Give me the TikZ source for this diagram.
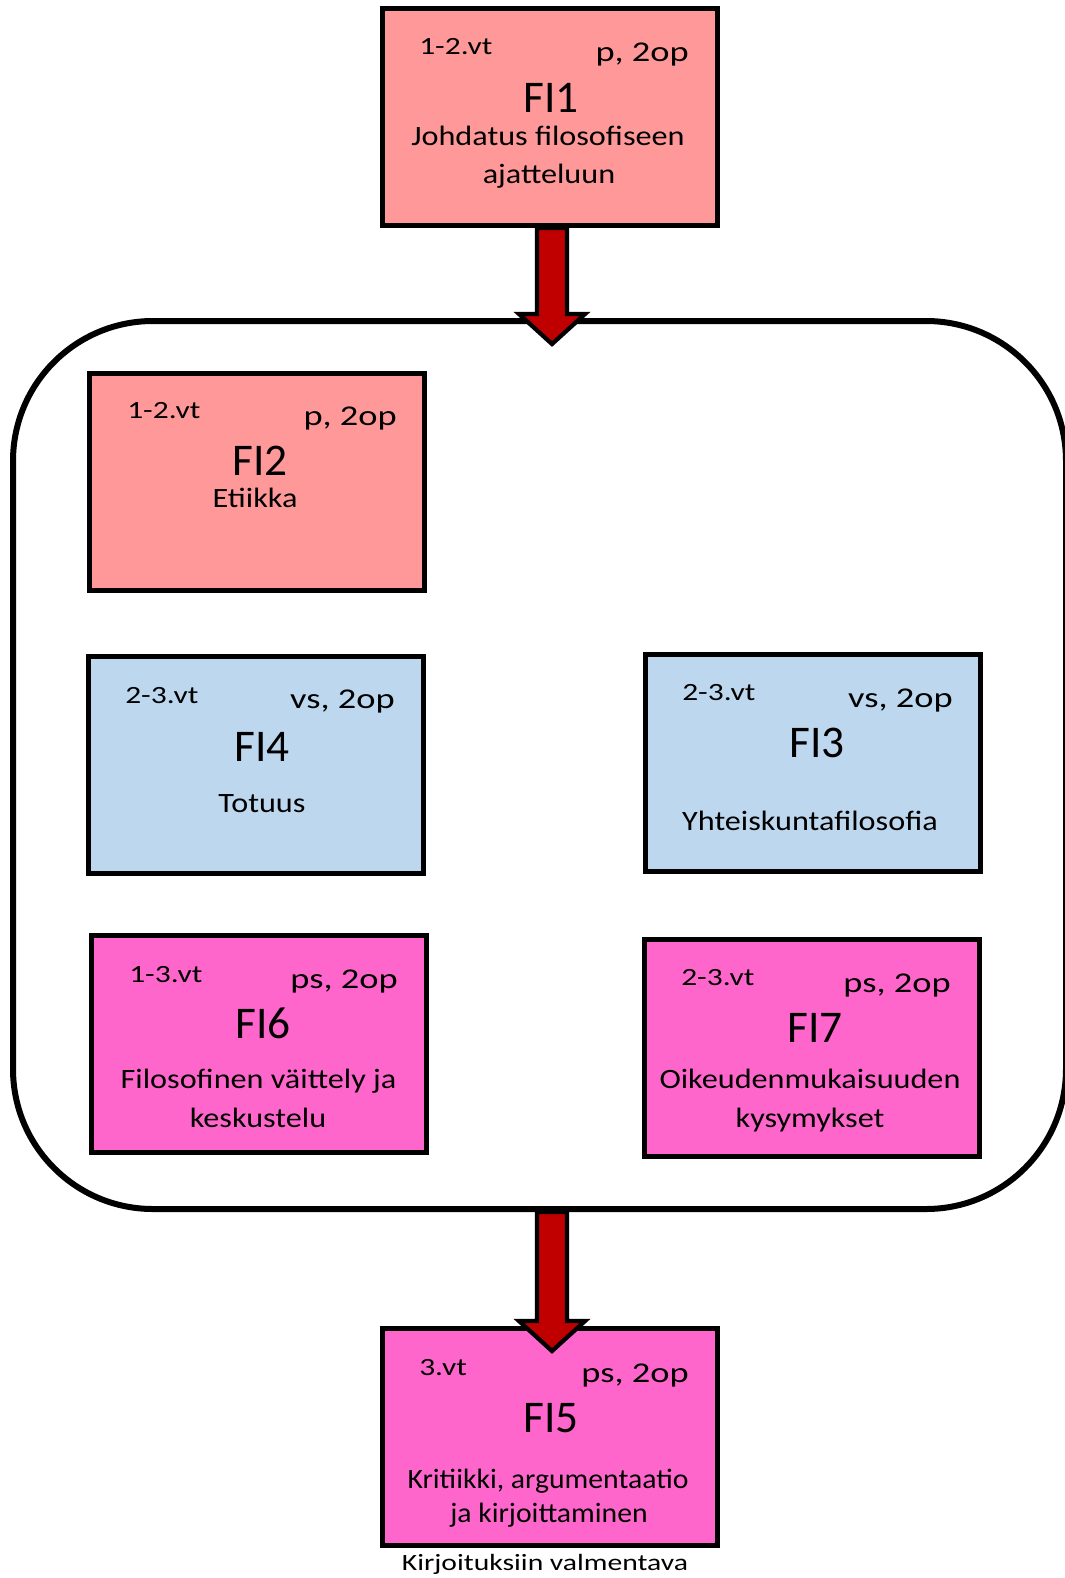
\documentclass[tikz,border=0pt]{standalone}
\usepackage{fontspec}
\setmainfont{Carlito}[FakeStretch=1.15]
\newfontfamily\codefont{Carlito}
\newfontfamily\titlefont{Carlito}[FakeStretch=1.15]
\newfontfamily\narrowtitlefont{Carlito}[FakeStretch=1.06]
\newfontfamily\smallfont{Carlito}[FakeStretch=1.27]
\usetikzlibrary{calc}
\definecolor{salmon}{HTML}{FF9999}
\definecolor{lblue}{HTML}{BDD7EE}
\definecolor{hpink}{HTML}{FF66CC}
\definecolor{darkred}{HTML}{C00000}
\tikzset{
  course/.style={draw=black, line width=3.75pt, minimum width=251.25pt, minimum height=162.75pt, inner sep=0pt},
  groupbox/.style={draw=black, line width=4.5pt, rounded corners=105pt, minimum width=789.75pt, minimum height=666pt, inner sep=0pt},
  blockarrow/.style={draw=black, fill=darkred, line width=3.2pt, line join=miter},
  vtlabel/.style={anchor=base west, inner sep=0pt, font=\smallfont\fontsize{18.6pt}{22pt}\selectfont},
  oplabel/.style={anchor=base east, inner sep=0pt, font=\smallfont\fontsize{21.5pt}{26pt}\selectfont},
  codelabel/.style={anchor=base, inner sep=0pt, font=\codefont\fontsize{34pt}{40pt}\selectfont},
  titlelabel/.style={anchor=base, inner sep=0pt, font=\titlefont\fontsize{21pt}{25pt}\selectfont},
  narrowtitle/.style={anchor=base, inner sep=0pt, font=\narrowtitlefont\fontsize{21pt}{25pt}\selectfont},
  notelabel/.style={anchor=base, inner sep=0pt, font=\smallfont\fontsize{17.5pt}{21pt}\selectfont}
}
\begin{document}
\begin{tikzpicture}[x=0.75pt,y=-0.75pt]
\useasboundingbox (0,0) rectangle (1064,1578);
% group frame
\node[groupbox] (group) at (539.5,765) {};
% course boxes
\node[course, fill=salmon] (fi1) at (549.5,117) {};
\node[course, fill=salmon] (fi2) at (257,481.5) {};
\node[course, fill=lblue] (fi4) at (256,765) {};
\node[course, fill=lblue] (fi3) at (813,762.5) {};
\node[course, fill=hpink] (fi6) at (258.5,1044) {};
\node[course, fill=hpink] (fi7) at (812,1047.5) {};
\node[course, fill=hpink] (fi5) at (549.5,1437) {};
% arrows
\coordinate (a1) at (552,344);
\coordinate (a2) at (552,1351);
\draw[blockarrow] ($(fi1.south -| a1)+(-15,0)$) -- ($(a1)+(-15,-30)$) -- ($(a1)+(-33,-30)$) -- (a1)
  -- ($(a1)+(33,-30)$) -- ($(a1)+(15,-30)$) -- ($(fi1.south -| a1)+(15,0)$) -- cycle;
\draw[blockarrow] ($(group.south -| a2)+(-15,0)$) -- ($(a2)+(-15,-30)$) -- ($(a2)+(-33,-30)$) -- (a2)
  -- ($(a2)+(33,-30)$) -- ($(a2)+(15,-30)$) -- ($(group.south -| a2)+(15,0)$) -- cycle;
% FI1
\node[vtlabel] (fi1vt) at (419,54) {1-2.vt};
\node[oplabel] (fi1op) at (689,61) {p, 2op};
\node[codelabel] (fi1code) at (551,112) {FI1};
\node[titlelabel] (fi1t1) at (548,145) {Johdatus filosofiseen};
\node[titlelabel] (fi1t2) at (549,183) {ajatteluun};
% FI2
\node[vtlabel] (fi2vt) at (127,418) {1-2.vt};
\node[oplabel] (fi2op) at (397,425) {p, 2op};
\node[codelabel] (fi2code) at (260,475) {FI2};
\node[titlelabel] (fi2t1) at (255,507) {Etiikka};
% FI4
\node[vtlabel] (fi4vt) at (125,703) {2-3.vt};
\node[oplabel] (fi4op) at (395,708) {vs, 2op};
\node[codelabel] (fi4code) at (262,761) {FI4};
\node[titlelabel] (fi4t1) at (262,812) {Totuus};
% FI3
\node[vtlabel] (fi3vt) at (682,700) {2-3.vt};
\node[oplabel] (fi3op) at (953,707) {vs, 2op};
\node[codelabel] (fi3code) at (817,757) {FI3};
\node[titlelabel] (fi3t1) at (810,830) {Yhteiskuntafilosofia};
% FI6
\node[vtlabel] (fi6vt) at (129,982) {1-3.vt};
\node[oplabel] (fi6op) at (398,988) {ps, 2op};
\node[codelabel] (fi6code) at (263,1038) {FI6};
\node[titlelabel] (fi6t1) at (258.5,1088) {Filosofinen väittely ja};
\node[titlelabel] (fi6t2) at (258,1127) {keskustelu};
% FI7
\node[vtlabel] (fi7vt) at (681,985) {2-3.vt};
\node[oplabel] (fi7op) at (951,992) {ps, 2op};
\node[codelabel] (fi7code) at (815,1042) {FI7};
\node[titlelabel] (fi7t1) at (810,1088) {Oikeudenmukaisuuden};
\node[titlelabel] (fi7t2) at (810,1127) {kysymykset};
% FI5
\node[vtlabel] (fi5vt) at (419,1375) {3.vt};
\node[oplabel] (fi5op) at (689,1382) {ps, 2op};
\node[codelabel] (fi5code) at (551,1432) {FI5};
\node[narrowtitle] (fi5t1) at (548,1488) {Kritiikki, argumentaatio};
\node[narrowtitle] (fi5t2) at (549,1522) {ja kirjoittaminen};
\node[notelabel] (fi5note) at (545,1570) {Kirjoituksiin valmentava};
\end{tikzpicture}
\end{document}
